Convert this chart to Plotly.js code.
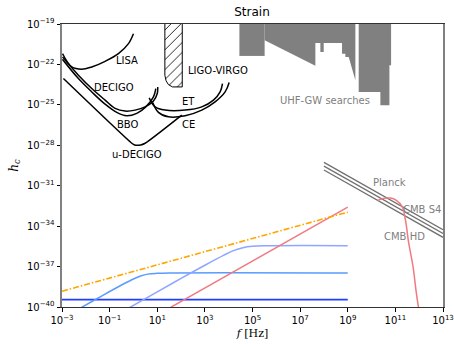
<!DOCTYPE html>
<html>
<head>
<meta charset="utf-8">
<script src="https://cdn.plot.ly/plotly-3.0.1.min.js"></script>
<style>html,body{margin:0;padding:0;background:#fff;}#chart{width:454px;height:344px;}</style>
</head>
<body>
<div id="chart"></div>
<script>
// ---- data (log10 of frequency [Hz] and log10 of strain h_c) ----
const lisaLogF = [-2.98, -2.59, -2.17, -1.75, -1.19, -0.63, -0.21, 0.00];
const lisaLogH = [-21.20, -22.19, -22.36, -22.19, -21.77, -21.20, -20.46, -19.72];

const decigoLogF = [-2.98, -2.31, -1.75, -1.19, -0.77, -0.35, 0.07, 0.49, 0.84, 1.00, 1.02];
const decigoLogH = [-21.45, -22.80, -23.79, -24.65, -25.26, -25.46, -25.39, -25.15, -24.72, -24.16, -23.67];

const bboLogF = [-2.98, -2.31, -1.75, -1.19, -0.70, -0.28, 0.14, 0.52, 0.84, 0.94];
const bboLogH = [-21.62, -23.05, -24.04, -24.95, -25.56, -25.81, -25.63, -25.15, -24.41, -23.79];

const udecigoLogF = [-2.94, -0.07, 0.05, 0.30, 0.49, 2.03];
const udecigoLogH = [-23.05, -27.85, -27.98, -27.98, -27.85, -25.76];

const etLogF = [0.66, 0.91, 1.33, 2.17, 2.87, 3.36, 3.64, 3.74];
const etLogH = [-24.48, -25.15, -25.39, -25.39, -25.15, -24.65, -24.04, -23.42];

const ceLogF = [0.81, 1.05, 1.47, 2.17, 2.87, 3.43, 3.85, 4.02];
const ceLogH = [-24.82, -25.56, -25.89, -25.81, -25.39, -24.78, -24.04, -23.34];

const ligoLogF = [1.32, 1.32, 1.37, 1.47, 1.64, 2.05, 2.05, 1.32];
const ligoLogH = [-18.9, -22.80, -23.21, -23.50, -23.67, -23.67, -18.9, -18.9];

const uhfALogF = [4.45, 5.51, 5.51, 4.45, 4.45];
const uhfALogH = [-18.9, -18.9, -21.37, -21.37, -18.9];
const uhfBLogF = [5.51, 9.32, 9.32, 9.04, 8.90, 8.90, 8.76, 8.76, 7.99, 7.99, 7.85, 7.85, 7.64, 7.64, 5.51, 5.51];
const uhfBLogH = [-18.9, -18.9, -23.17, -21.45, -21.45, -21.20, -21.20, -20.41, -20.41, -21.08, -21.08, -20.41, -20.41, -22.10, -20.21, -18.9];
const uhfCLogF = [9.46, 10.82, 10.82, 10.75, 10.75, 10.37, 10.37, 9.46, 9.46];
const uhfCLogH = [-18.9, -18.9, -22.06, -22.06, -25.02, -25.02, -24.04, -24.04, -18.9];

const cmbLogF = [8, 13];
const planckLogH = [-29.27, -34.27];
const s4LogH = [-29.55, -34.55];
const hdLogH = [-29.83, -34.83];

const darkBlueLogF = [-3, 9];
const darkBlueLogH = [-39.45, -39.45];
const midBlueLogF = [-2.3, -1.5, -0.5, 0.0, 0.3, 0.6, 1.0, 1.5, 9];
const midBlueLogH = [-40.15, -39.35, -38.37, -37.92, -37.70, -37.56, -37.50, -37.47, -37.47];
const lightBlueLogF = [-0.3, 1.0, 2.0, 3.0, 3.8, 4.2, 4.6, 5.0, 5.5, 9];
const lightBlueLogH = [-40.18, -38.88, -37.88, -36.90, -36.15, -35.82, -35.60, -35.50, -35.46, -35.45];
const redLineLogF = [1.5, 9];
const redLineLogH = [-40.09, -32.59];
const orangeLogF = [-3, 9];
const orangeLogH = [-38.83, -32.96];
const redCurveLogF = [10.26, 10.50, 10.79, 11.04, 11.28, 11.42, 11.56, 11.74, 11.88, 11.97, 12.01];
const redCurveLogH = [-32.10, -31.94, -31.92, -32.08, -32.54, -33.52, -35.25, -36.98, -38.95, -40.0, -40.3];

const xTickExp = [-3, -1, 1, 3, 5, 7, 9, 11, 13];
const yTickExp = [-40, -37, -34, -31, -28, -25, -22, -19];

const labels = [
  {t: 'LISA', x: -0.28, y: -21.69, c: 'black'},
  {t: 'DECIGO', x: -0.80, y: -23.71, c: 'black'},
  {t: 'BBO', x: -0.21, y: -26.43, c: 'black'},
  {t: 'u-DECIGO', x: 0.14, y: -28.67, c: 'black'},
  {t: 'ET', x: 2.31, y: -24.72, c: 'black'},
  {t: 'CE', x: 2.31, y: -26.43, c: 'black'},
  {t: 'LIGO-VIRGO', x: 3.54, y: -22.43, c: 'black'},
  {t: 'UHF-GW searches', x: 8.03, y: -24.65, c: 'gray'},
  {t: 'Planck', x: 10.75, y: -30.74, c: 'gray'},
  {t: 'CMB S4', x: 12.12, y: -32.74, c: 'gray'},
  {t: 'CMB HD', x: 11.39, y: -34.76, c: 'gray'}
];

// ---- build ----
const p10 = a => a.map(v => Math.pow(10, v));
function line(lf, lh, color, width, extra) {
  return Object.assign({
    x: p10(lf), y: p10(lh), type: 'scatter', mode: 'lines',
    line: {color: color, width: width}, hoverinfo: 'skip', showlegend: false
  }, extra || {});
}
function poly(lf, lh, extra) {
  return Object.assign({
    x: p10(lf), y: p10(lh), type: 'scatter', mode: 'lines', fill: 'toself',
    hoverinfo: 'skip', showlegend: false
  }, extra);
}

const traces = [
  poly(uhfALogF, uhfALogH, {fillcolor: '#808080', line: {width: 0, color: '#808080'}}),
  poly(uhfBLogF, uhfBLogH, {fillcolor: '#808080', line: {width: 0, color: '#808080'}}),
  poly(uhfCLogF, uhfCLogH, {fillcolor: '#808080', line: {width: 0, color: '#808080'}}),
  poly(ligoLogF, ligoLogH, {fillcolor: 'white', line: {width: 1, color: 'black'},
    fillpattern: {shape: '/', fgcolor: 'black', bgcolor: 'white', size: 7, solidity: 0.12}}),
  line(lisaLogF, lisaLogH, 'black', 1.5, {line: {color: 'black', width: 1.5, shape: 'spline'}}),
  line(decigoLogF, decigoLogH, 'black', 1.5, {line: {color: 'black', width: 1.5, shape: 'spline'}}),
  line(bboLogF, bboLogH, 'black', 1.5, {line: {color: 'black', width: 1.5, shape: 'spline'}}),
  line(udecigoLogF, udecigoLogH, 'black', 1.5, {line: {color: 'black', width: 1.5, shape: 'spline', smoothing: 0.6}}),
  line(etLogF, etLogH, 'black', 1.5, {line: {color: 'black', width: 1.5, shape: 'spline'}}),
  line(ceLogF, ceLogH, 'black', 1.5, {line: {color: 'black', width: 1.5, shape: 'spline'}}),
  line(cmbLogF, planckLogH, '#707070', 1.3),
  line(cmbLogF, s4LogH, '#707070', 1.3),
  line(cmbLogF, hdLogH, '#707070', 1.3),
  line(darkBlueLogF, darkBlueLogH, '#1f3dff', 1.8),
  line(midBlueLogF, midBlueLogH, '#5a9bff', 1.5, {line: {color: '#5a9bff', width: 1.5, shape: 'spline'}}),
  line(lightBlueLogF, lightBlueLogH, '#8ea6ff', 1.5, {line: {color: '#8ea6ff', width: 1.5, shape: 'spline'}}),
  line(redLineLogF, redLineLogH, '#f07a80', 1.5),
  line(orangeLogF, orangeLogH, '#ffa500', 1.6, {line: {color: '#ffa500', width: 1.6, dash: '6px,2px,1.5px,2px'}}),
  line(redCurveLogF, redCurveLogH, '#f07a80', 1.5, {line: {color: '#f07a80', width: 1.5, shape: 'spline'}})
];

const sup = e => '10<sup>' + (e < 0 ? '\u2212' + (-e) : e) + '</sup>';
const font = {family: 'DejaVu Sans', size: 10, color: 'black'};

const layout = {
  width: 454, height: 344,
  margin: {l: 62, r: 11, t: 24, b: 37, pad: 0},
  paper_bgcolor: 'white', plot_bgcolor: 'white',
  font: font,
  title: {text: 'Strain', font: {family: 'DejaVu Sans', size: 12, color: 'black'}, x: 0.555, xanchor: 'center', y: 0.965, yanchor: 'middle'},
  xaxis: {
    type: 'log', range: [-3, 13], showgrid: false, zeroline: false,
    tickvals: p10(xTickExp), ticktext: xTickExp.map(sup),
    ticks: 'outside', ticklen: 3.5, tickwidth: 1, tickcolor: 'black',
    showline: true, linecolor: '#333', linewidth: 1.3, mirror: true,
    tickfont: font,
    title: {text: '<i>f</i> [Hz]', font: {family: 'DejaVu Serif', size: 11, color: 'black'}, standoff: 4}
  },
  yaxis: {
    type: 'log', range: [-40, -19], showgrid: false, zeroline: false,
    tickvals: p10(yTickExp), ticktext: yTickExp.map(sup),
    ticks: 'outside', ticklen: 3.5, tickwidth: 1, tickcolor: 'black',
    showline: true, linecolor: '#808080', linewidth: 2, mirror: true,
    tickfont: font,
    title: {text: '<i>h</i><sub><i>c</i></sub>', font: {family: 'DejaVu Serif', size: 12, color: 'black'}, standoff: 6}
  },
  annotations: labels.map(l => ({
    x: l.x, y: l.y, xref: 'x', yref: 'y', text: l.t, showarrow: false,
    font: {family: 'DejaVu Sans', size: 10, color: l.c}, xanchor: 'center', yanchor: 'middle'
  }))
};

Plotly.newPlot('chart', traces, layout, {displayModeBar: false, staticPlot: true});
</script>
</body>
</html>
